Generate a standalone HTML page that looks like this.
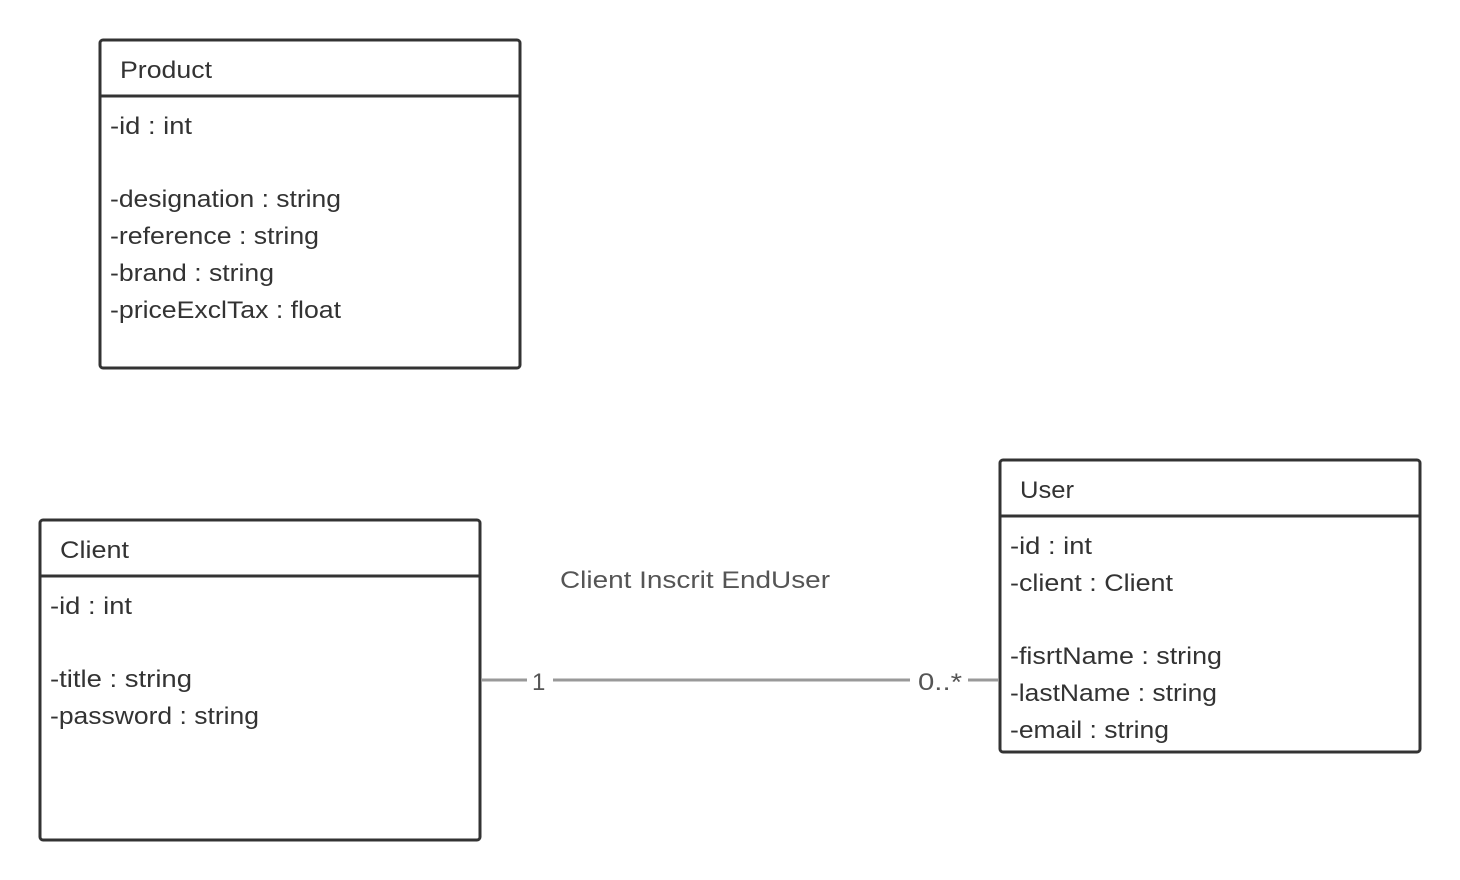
<!DOCTYPE html>
<html><head><meta charset="utf-8"><style>
html,body{margin:0;padding:0;background:#fff;}
svg{display:block;}
text{font-family:"Liberation Sans",sans-serif;font-size:24px;fill:#333;}
</style></head><body>
<svg width="1460" height="880" viewBox="0 0 1460 880">
<g fill="#fff" stroke="#333" stroke-width="3">
<rect x="100" y="40" width="420" height="328" rx="3"/>
<line x1="100" y1="96" x2="520" y2="96"/>
<rect x="40" y="520" width="440" height="320" rx="3"/>
<line x1="40" y1="576" x2="480" y2="576"/>
<rect x="1000" y="460" width="420" height="292" rx="3"/>
<line x1="1000" y1="516" x2="1420" y2="516"/>
</g>
<g stroke="#999" stroke-width="3">
<line x1="481" y1="680" x2="527" y2="680"/>
<line x1="553" y1="680" x2="910" y2="680"/>
<line x1="968" y1="680" x2="999" y2="680"/>
</g>
<g lengthAdjust="spacingAndGlyphs">
<text x="120" y="78" textLength="92" lengthAdjust="spacingAndGlyphs">Product</text>
<text x="110" y="134" textLength="82" lengthAdjust="spacingAndGlyphs">-id : int</text>
<text x="110" y="207" textLength="231" lengthAdjust="spacingAndGlyphs">-designation : string</text>
<text x="110" y="244" textLength="209" lengthAdjust="spacingAndGlyphs">-reference : string</text>
<text x="110" y="281" textLength="164" lengthAdjust="spacingAndGlyphs">-brand : string</text>
<text x="110" y="318" textLength="231" lengthAdjust="spacingAndGlyphs">-priceExclTax  : float</text>
<text x="60" y="558" textLength="69" lengthAdjust="spacingAndGlyphs">Client</text>
<text x="50" y="614" textLength="82" lengthAdjust="spacingAndGlyphs">-id : int</text>
<text x="50" y="687" textLength="142" lengthAdjust="spacingAndGlyphs">-title : string</text>
<text x="50" y="724" textLength="209" lengthAdjust="spacingAndGlyphs">-password : string</text>
<text x="1020" y="498" textLength="54" lengthAdjust="spacingAndGlyphs">User</text>
<text x="1010" y="554" textLength="82" lengthAdjust="spacingAndGlyphs">-id : int</text>
<text x="1010" y="591" textLength="163" lengthAdjust="spacingAndGlyphs">-client : Client</text>
<text x="1010" y="664" textLength="212" lengthAdjust="spacingAndGlyphs">-fisrtName : string</text>
<text x="1010" y="701" textLength="207" lengthAdjust="spacingAndGlyphs">-lastName : string</text>
<text x="1010" y="738" textLength="159" lengthAdjust="spacingAndGlyphs">-email : string</text>
<text x="560" y="588" style="fill:#555" textLength="270" lengthAdjust="spacingAndGlyphs">Client Inscrit EndUser</text>
<text x="532" y="690" style="fill:#555">1</text>
<text x="918" y="690" style="fill:#555" textLength="44" lengthAdjust="spacingAndGlyphs">0..*</text>
</g>
</svg>
</body></html>
